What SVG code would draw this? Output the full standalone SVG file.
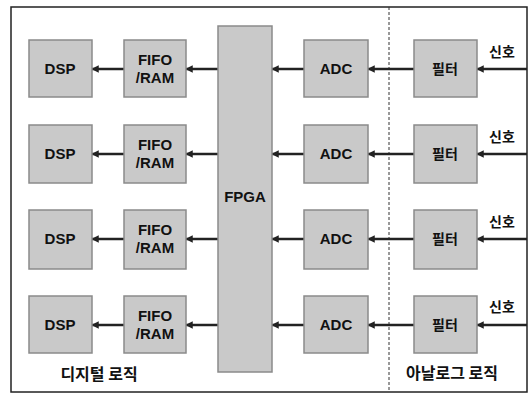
<svg xmlns="http://www.w3.org/2000/svg" width="530" height="396" viewBox="0 0 530 396">
<defs>
<style>
.box{fill:#c9c9c9;stroke:#8a8a8a;stroke-width:1.5}
.t{font-family:"Liberation Sans","Noto Sans CJK KR",sans-serif;font-weight:bold;font-size:15px;fill:#111;text-anchor:middle}
.k{font-family:"Noto Sans CJK KR","Liberation Sans",sans-serif;font-weight:bold;font-size:14px;fill:#111;text-anchor:middle}
.b{font-family:"Noto Sans CJK KR","Liberation Sans",sans-serif;font-weight:bold;font-size:16px;fill:#111;text-anchor:middle}
.c{stroke:#222;stroke-width:2.5;fill:none;marker-end:url(#ah)}
</style>
<marker id="ah" viewBox="0 0 10 10" refX="9" refY="5" markerWidth="3" markerHeight="3" orient="auto">
<path d="M0,0 L10,5 L0,10 z" fill="#222"/>
</marker>
</defs>
<rect x="0" y="0" width="530" height="396" fill="#fff"/>
<rect x="11" y="7" width="516" height="385" fill="none" stroke="#222" stroke-width="1.5"/>
<line x1="389" y1="7" x2="389" y2="392" stroke="#333" stroke-width="1" stroke-dasharray="3,2"/>
<g id="connectors">
<line class="c" x1="124" y1="69" x2="92" y2="69"/>
<line class="c" x1="218" y1="69" x2="186" y2="69"/>
<line class="c" x1="304" y1="69" x2="272" y2="69"/>
<line class="c" x1="414" y1="69" x2="368" y2="69"/>
<line class="c" x1="527" y1="69" x2="477" y2="69"/>
<line class="c" x1="124" y1="154" x2="92" y2="154"/>
<line class="c" x1="218" y1="154" x2="186" y2="154"/>
<line class="c" x1="304" y1="154" x2="272" y2="154"/>
<line class="c" x1="414" y1="154" x2="368" y2="154"/>
<line class="c" x1="527" y1="154" x2="477" y2="154"/>
<line class="c" x1="124" y1="239" x2="92" y2="239"/>
<line class="c" x1="218" y1="239" x2="186" y2="239"/>
<line class="c" x1="304" y1="239" x2="272" y2="239"/>
<line class="c" x1="414" y1="239" x2="368" y2="239"/>
<line class="c" x1="527" y1="239" x2="477" y2="239"/>
<line class="c" x1="124" y1="325" x2="92" y2="325"/>
<line class="c" x1="218" y1="325" x2="186" y2="325"/>
<line class="c" x1="304" y1="325" x2="272" y2="325"/>
<line class="c" x1="414" y1="325" x2="368" y2="325"/>
<line class="c" x1="527" y1="325" x2="477" y2="325"/>
</g>
<g id="fpga"><rect class="box" x="218" y="26" width="54" height="346"/><text class="t" x="245" y="202">FPGA</text></g>
<g id="dsp1"><rect class="box" x="29" y="40" width="63" height="57"/><text class="t" x="60" y="74">DSP</text></g>
<g id="fifo1"><rect class="box" x="124" y="40" width="62" height="57"/><text class="t" x="155" y="65">FIFO</text><text class="t" x="155" y="83">/RAM</text></g>
<g id="adc1"><rect class="box" x="304" y="40" width="64" height="57"/><text class="t" x="336" y="74">ADC</text></g>
<g id="filter1"><rect class="box" x="414" y="40" width="63" height="57"/><text class="k" x="445" y="74">필터</text></g>
<g id="sig1"><text class="k" x="502" y="57">신호</text></g>
<g id="dsp2"><rect class="box" x="29" y="125" width="63" height="58"/><text class="t" x="60" y="159">DSP</text></g>
<g id="fifo2"><rect class="box" x="124" y="125" width="62" height="58"/><text class="t" x="155" y="150">FIFO</text><text class="t" x="155" y="168">/RAM</text></g>
<g id="adc2"><rect class="box" x="304" y="125" width="64" height="58"/><text class="t" x="336" y="159">ADC</text></g>
<g id="filter2"><rect class="box" x="414" y="125" width="63" height="58"/><text class="k" x="445" y="159">필터</text></g>
<g id="sig2"><text class="k" x="502" y="142">신호</text></g>
<g id="dsp3"><rect class="box" x="29" y="210" width="63" height="59"/><text class="t" x="60" y="244">DSP</text></g>
<g id="fifo3"><rect class="box" x="124" y="210" width="62" height="59"/><text class="t" x="155" y="235">FIFO</text><text class="t" x="155" y="253">/RAM</text></g>
<g id="adc3"><rect class="box" x="304" y="210" width="64" height="59"/><text class="t" x="336" y="244">ADC</text></g>
<g id="filter3"><rect class="box" x="414" y="210" width="63" height="59"/><text class="k" x="445" y="244">필터</text></g>
<g id="sig3"><text class="k" x="502" y="227">신호</text></g>
<g id="dsp4"><rect class="box" x="29" y="296" width="63" height="57"/><text class="t" x="60" y="330">DSP</text></g>
<g id="fifo4"><rect class="box" x="124" y="296" width="62" height="57"/><text class="t" x="155" y="321">FIFO</text><text class="t" x="155" y="339">/RAM</text></g>
<g id="adc4"><rect class="box" x="304" y="296" width="64" height="57"/><text class="t" x="336" y="330">ADC</text></g>
<g id="filter4"><rect class="box" x="414" y="296" width="63" height="57"/><text class="k" x="445" y="330">필터</text></g>
<g id="sig4"><text class="k" x="502" y="312">신호</text></g>
<g id="label-digital"><text class="b" x="99" y="380">디지털 로직</text></g>
<g id="label-analog"><text class="b" x="452" y="379">아날로그 로직</text></g>
</svg>
